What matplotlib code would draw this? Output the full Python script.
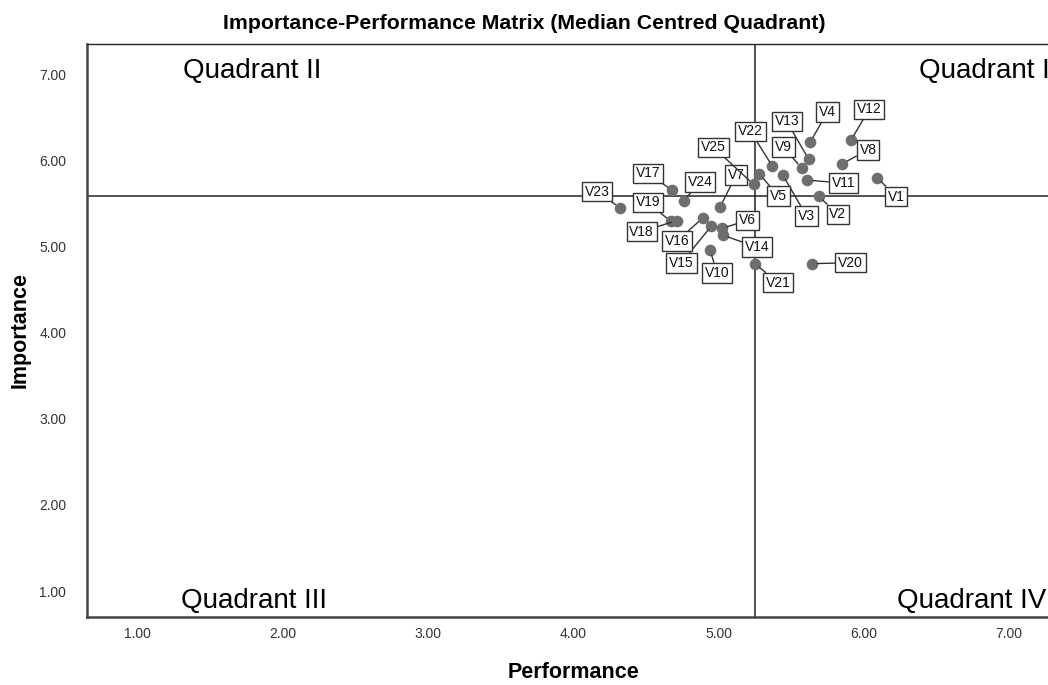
import matplotlib.pyplot as plt
import numpy as np

plt.rcParams['font.family'] = ['Liberation Sans', 'DejaVu Sans']

labels = ["V1", "V2", "V3", "V4", "V5", "V6", "V7", "V8", "V9", "V10",
          "V11", "V12", "V13", "V14", "V15", "V16", "V17", "V18", "V19", "V20",
          "V21", "V22", "V23", "V24", "V25"]
performance = [6.09, 5.69, 5.44, 5.63, 5.28, 5.02, 5.01, 5.85, 5.57, 4.94,
               5.61, 5.91, 5.62, 5.03, 4.95, 4.89, 4.68, 4.71, 4.67, 5.64,
               5.25, 5.37, 4.32, 4.76, 5.24]
importance = [5.80, 5.58, 5.83, 6.21, 5.84, 5.21, 5.46, 5.96, 5.91, 4.96,
              5.77, 6.23, 6.01, 5.13, 5.24, 5.33, 5.65, 5.30, 5.29, 4.80,
              4.80, 5.93, 5.45, 5.53, 5.72]

# where each label box sits relative to its point (pixels, y up)
label_offsets = [(19, -19), (19, -18), (24, -41), (17, 30), (19, -22),
                 (26, 8), (16, 32), (26, 14), (-18, 21), (7, -23),
                 (36, -3), (18, 31), (-22, 38), (34, -12), (-30, -37),
                 (-26, -23), (-24, 17), (-35, -11), (-23, 19), (39, 1),
                 (23, -19), (-22, 35), (-23, 16), (16, 19), (-40, 37)]

perf_med = np.median(performance)
imp_med = np.median(importance)

fig = plt.figure(figsize=(10.48, 6.85), dpi=100)
ax = fig.add_axes([0.083, 0.0993, 0.9285, 0.8365])

ax.set_xlim(0.65, 7.35)
ax.set_ylim(0.70, 7.35)

ax.axvline(perf_med, color="#222222", lw=1.1, zorder=1)
ax.axhline(imp_med, color="#222222", lw=1.1, zorder=1)

ax.scatter(performance, importance, s=70, color="#6e6e6e", zorder=3, linewidths=0)

for name, x, y, off in zip(labels, performance, importance, label_offsets):
    ax.annotate(name, (x, y), xytext=off, textcoords="offset pixels",
                ha="center", va="center", fontsize=10, color="#111111",
                bbox=dict(boxstyle="square,pad=0.2", fc="white", ec="#333333", lw=1),
                arrowprops=dict(arrowstyle="-", color="#333333", lw=1,
                                shrinkA=0, shrinkB=4),
                zorder=4)

ax.text(1.31, 7.04, "Quadrant II", fontsize=20, va="center", ha="left")
ax.text(6.38, 7.04, "Quadrant I", fontsize=20, va="center", ha="left")
ax.text(1.30, 0.88, "Quadrant III", fontsize=20, va="center", ha="left")
ax.text(6.23, 0.88, "Quadrant IV", fontsize=20, va="center", ha="left")

ax.set_xticks(np.arange(1, 8))
ax.set_yticks(np.arange(1, 8))
ax.set_xticklabels([f"{v:.2f}" for v in range(1, 8)])
ax.set_yticklabels([f"{v:.2f}" for v in range(1, 8)])
ax.tick_params(length=0, labelsize=10, labelcolor="#333333")
ax.tick_params(axis="x", pad=7.5)
ax.tick_params(axis="y", pad=15)

for side in ["left", "bottom"]:
    ax.spines[side].set_linewidth(1.8)
    ax.spines[side].set_color("#444444")
ax.spines["top"].set_linewidth(1.0)
ax.spines["top"].set_color("#222222")

ax.set_xlabel("Performance", fontsize=15.5, fontweight="bold", labelpad=15)
ax.set_ylabel("Importance", fontsize=15.5, fontweight="bold", labelpad=6)
fig.suptitle("Importance-Performance Matrix (Median Centred Quadrant)",
             fontsize=15.3, fontweight="bold", x=0.5, y=0.98)

fig.savefig("out.png", dpi=100)
